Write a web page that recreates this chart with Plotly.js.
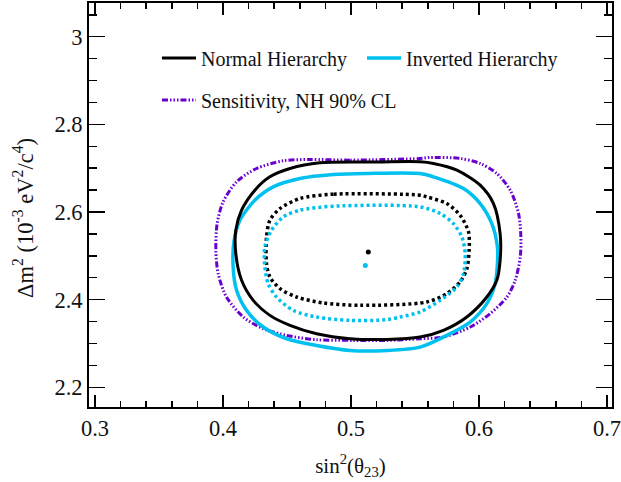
<!DOCTYPE html>
<html><head><meta charset="utf-8">
<script src="https://cdn.plot.ly/plotly-3.0.1.min.js"></script>
<style>html,body{margin:0;padding:0;background:#fff}#chart{width:621px;height:482px}</style>
</head><body><div id="chart"></div>
<script>
// Best-fit points
const nhBestX = [0.5135], nhBestY = [2.509];
const ihBestX = [0.5112], ihBestY = [2.478];

// Normal hierarchy 90% CL contour (solid)
const nh90X = [0.554, 0.515, 0.4757, 0.4523, 0.4366, 0.4249, 0.4145, 0.41, 0.41, 0.4145, 0.4236, 0.4366, 0.4523, 0.4731, 0.4992, 0.5279, 0.554, 0.5722, 0.5905, 0.6061, 0.6139, 0.6165, 0.6165, 0.6113, 0.6009, 0.5827, 0.5644, 0.554];
const nh90Y = [2.7146, 2.714, 2.7123, 2.6993, 2.6803, 2.6498, 2.6041, 2.5584, 2.5051, 2.4441, 2.3984, 2.3641, 2.3413, 2.3222, 2.3108, 2.3093, 2.3146, 2.3299, 2.3604, 2.4060, 2.4441, 2.4898, 2.5508, 2.6193, 2.6612, 2.6956, 2.7108, 2.7146];

// Inverted hierarchy 90% CL contour (solid)
const ih90X = [0.554, 0.5123, 0.4862, 0.4601, 0.4392, 0.4249, 0.4132, 0.4087, 0.4079, 0.4106, 0.4184, 0.4314, 0.4497, 0.4731, 0.4992, 0.5279, 0.554, 0.5748, 0.5931, 0.6061, 0.6126, 0.6144, 0.6144, 0.61, 0.6009, 0.5879, 0.5644, 0.554];
const ih90Y = [2.6879, 2.688, 2.6856, 2.6765, 2.6574, 2.627, 2.5813, 2.5355, 2.4746, 2.4213, 2.3755, 2.3375, 2.3108, 2.2955, 2.2841, 2.2841, 2.2917, 2.3184, 2.3489, 2.3908, 2.4365, 2.4822, 2.5203, 2.5736, 2.6193, 2.6536, 2.6803, 2.6879];

// Normal hierarchy 68% CL contour (dotted)
const nh68X = [0.554, 0.4862, 0.4601, 0.4445, 0.4366, 0.434, 0.434, 0.4366, 0.4445, 0.4575, 0.4784, 0.507, 0.5592, 0.5748, 0.5852, 0.5905, 0.5923, 0.5918, 0.5852, 0.5748, 0.5592, 0.554];
const nh68Y = [2.6384, 2.6407, 2.6308, 2.6079, 2.5813, 2.5432, 2.4822, 2.4517, 2.4251, 2.406, 2.3924, 2.387, 2.3946, 2.4137, 2.4403, 2.4708, 2.5127, 2.5546, 2.5927, 2.6193, 2.6346, 2.6384];

// Inverted hierarchy 68% CL contour (dotted)
const ih68X = [0.554, 0.4862, 0.4601, 0.4471, 0.4379, 0.4327, 0.4327, 0.4353, 0.4418, 0.4549, 0.4731, 0.4992, 0.5279, 0.5383, 0.554, 0.5696, 0.5827, 0.5879, 0.5892, 0.5866, 0.58, 0.5696, 0.554];
const ih68Y = [2.6117, 2.6132, 2.6041, 2.5889, 2.5584, 2.5203, 2.4746, 2.4365, 2.406, 2.3755, 2.3603, 2.3527, 2.3542, 2.3603, 2.372, 2.3984, 2.4289, 2.4594, 2.5051, 2.5432, 2.5736, 2.5965, 2.6117];

// Sensitivity, NH 90% CL
const sensX = [0.554, 0.4992, 0.4679, 0.4471, 0.4262, 0.4106, 0.4001, 0.3954, 0.3944, 0.3962, 0.4027, 0.4158, 0.4314, 0.4497, 0.4731, 0.5018, 0.5279, 0.554, 0.5722, 0.5931, 0.6087, 0.6218, 0.6283, 0.6322, 0.6327, 0.6309, 0.6244, 0.6139, 0.6009, 0.5853, 0.5618, 0.554];
const sensY = [2.7222, 2.7184, 2.7199, 2.7169, 2.6993, 2.6689, 2.6232, 2.5736, 2.5127, 2.4594, 2.406, 2.3604, 2.3337, 2.3184, 2.3085, 2.307, 2.307, 2.3108, 2.3146, 2.3375, 2.368, 2.406, 2.4441, 2.4974, 2.5432, 2.5965, 2.6498, 2.6879, 2.7108, 2.7222, 2.7245, 2.7222];

// Axis titles
const xTitle = 'sin<sup>2</sup>(θ<sub>23</sub>)';
const yTitle = 'Δm<sup>2</sup> (10<sup>-3</sup> eV<sup>2</sup>/c<sup>4</sup>)';

const BLACK = '#000000', CYAN = '#00c0f0', PURPLE = '#6a00d0';
const FONT = 'Liberation Serif';

const traces = [
  {x: sensX, y: sensY, type: 'scatter', mode: 'lines', name: 'Sensitivity, NH 90% CL', legend: 'legend2',
   line: {color: PURPLE, width: 3, dash: '6px,2px,1.5px,2px,1.5px,2px,1.5px,2px', shape: 'spline', smoothing: 0.8}},
  {x: ih90X, y: ih90Y, type: 'scatter', mode: 'lines', name: 'Inverted Hierarchy', legendrank: 2,
   line: {color: CYAN, width: 3.5, shape: 'spline', smoothing: 0.8}},
  {x: nh90X, y: nh90Y, type: 'scatter', mode: 'lines', name: 'Normal Hierarchy', legendrank: 1,
   line: {color: BLACK, width: 3, shape: 'spline', smoothing: 0.8}},
  {x: nh68X, y: nh68Y, type: 'scatter', mode: 'lines', showlegend: false,
   line: {color: BLACK, width: 3.5, dash: '3px,3px', shape: 'spline', smoothing: 0.8}},
  {x: ih68X, y: ih68Y, type: 'scatter', mode: 'lines', showlegend: false,
   line: {color: CYAN, width: 3.5, dash: '3px,3px', shape: 'spline', smoothing: 0.8}},
  {x: nhBestX, y: nhBestY, type: 'scatter', mode: 'markers', showlegend: false,
   marker: {color: BLACK, size: 5}},
  {x: ihBestX, y: ihBestY, type: 'scatter', mode: 'markers', showlegend: false,
   marker: {color: CYAN, size: 5}},
  // empty holder trace so the title-carrying axis gets drawn
  {x: [null], y: [null], yaxis: 'y2', type: 'scatter', mode: 'lines', showlegend: false, hoverinfo: 'skip'}
];

const axisCommon = {
  showgrid: false, zeroline: false, showline: true, linewidth: 2, linecolor: '#000',
  ticks: 'inside', tickwidth: 1.5, tickcolor: '#000',
  ticklabeloverflow: 'allow',
  tickfont: {family: FONT, size: 22.5, color: '#111'}
};

const layout = {
  width: 621, height: 482,
  margin: {l: 89, r: 9, t: 3, b: 75},
  paper_bgcolor: '#fff', plot_bgcolor: 'rgba(0,0,0,0)',
  font: {family: FONT, color: '#111'},
  xaxis: Object.assign({}, axisCommon, {
    mirror: 'ticks',
    range: [0.2953, 0.7039], tick0: 0.3, dtick: 0.1, ticklen: 12,
    minor: {dtick: 0.02, tick0: 0.3, ticks: 'inside', ticklen: 6, tickwidth: 1.5, tickcolor: '#000', showgrid: false},
    title: {text: xTitle, font: {family: FONT, size: 21, color: '#111'}, standoff: 18}
  }),
  yaxis: Object.assign({}, axisCommon, {
    mirror: 'ticks',
    range: [2.155, 3.077], tick0: 2.2, dtick: 0.2, ticklen: 16,
    minor: {dtick: 0.05, tick0: 2.2, ticks: 'inside', ticklen: 8, tickwidth: 1.5, tickcolor: '#000', showgrid: false}
  }),
  yaxis2: {
    domain: [0, 0.936], anchor: 'x', range: [0, 1],
    showline: false, ticks: '', showticklabels: false, showgrid: false, zeroline: false,
    title: {text: yTitle, font: {family: FONT, size: 22.5, color: '#111'}, standoff: 48}
  },
  showlegend: true,
  legend: {x: 0.13, xanchor: 'left', y: 0.912, yanchor: 'top', orientation: 'h', itemwidth: 34,
           font: {family: FONT, size: 20, color: '#111'}, bgcolor: 'rgba(0,0,0,0)', entrywidth: 156, traceorder: 'normal'},
  legend2: {x: 0.13, xanchor: 'left', y: 0.808, yanchor: 'top', orientation: 'h', itemwidth: 34,
           font: {family: FONT, size: 20, color: '#111'}, bgcolor: 'rgba(0,0,0,0)'}
};

Plotly.newPlot('chart', traces, layout, {displayModeBar: false, staticPlot: true});
</script>
</body></html>
